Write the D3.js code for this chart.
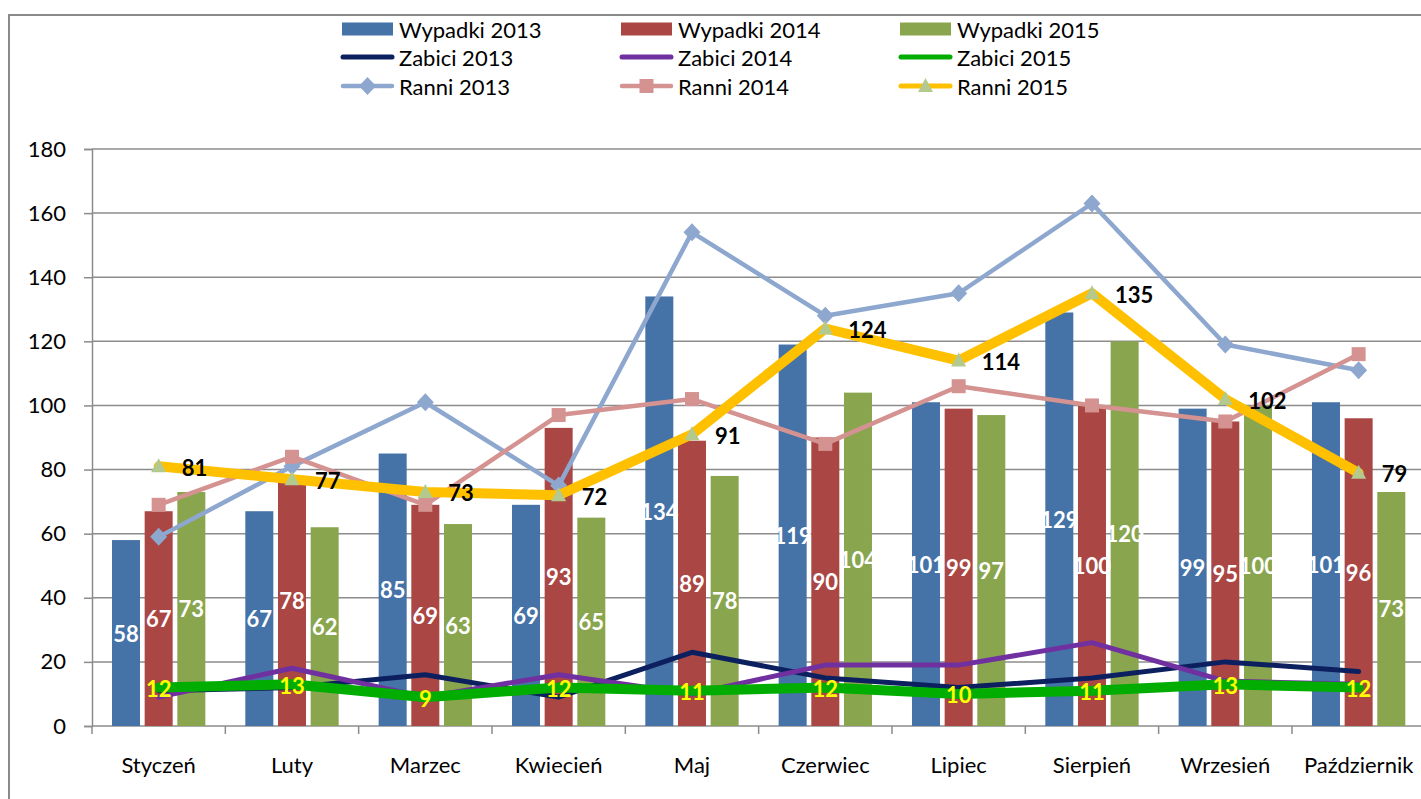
<!DOCTYPE html>
<html>
<head>
<meta charset="utf-8">
<script src="https://cdn.jsdelivr.net/npm/d3@7"></script>
<style>
  html, body { margin: 0; padding: 0; background: #fff; }
  svg { display: block; font-family: Lato, "Open Sans", sans-serif; }
</style>
</head>
<body>
<svg id="chart" width="1421" height="799"></svg>
<script>
const months = ["Styczeń","Luty","Marzec","Kwiecień","Maj","Czerwiec","Lipiec","Sierpień","Wrzesień","Październik"];
const wypadki2013 = [58,67,85,69,134,119,101,129,99,101];
const wypadki2014 = [67,78,69,93,89,90,99,100,95,96];
const wypadki2015 = [73,62,63,65,78,104,97,120,100,73];
const zabici2013 = [11,12,16,9,23,15,12,15,20,17];
const zabici2014 = [9,18,9,16,10,19,19,26,14,13];
const zabici2015 = [12,13,9,12,11,12,10,11,13,12];
const ranni2013 = [59,81,101,75,154,128,135,163,119,111];
const ranni2014 = [69,84,69,97,102,88,106,100,95,116];
const ranni2015 = [81,77,73,72,91,124,114,135,102,79];
const yTicks = [0,20,40,60,80,100,120,140,160,180];

const barSeries = [
  {name:"Wypadki 2013", key:"2013", values:wypadki2013, color:"#4572A7"},
  {name:"Wypadki 2014", key:"2014", values:wypadki2014, color:"#AA4643"},
  {name:"Wypadki 2015", key:"2015", values:wypadki2015, color:"#89A54E"}
];
const lineSeries = [
  {name:"Zabici 2013", values:zabici2013, color:"#0C2060", width:5, marker:null},
  {name:"Zabici 2014", values:zabici2014, color:"#7030A0", width:5, marker:null},
  {name:"Zabici 2015", values:zabici2015, color:"#00AD00", width:10, marker:null},
  {name:"Ranni 2013", values:ranni2013, color:"#8EA7CF", width:4.5, marker:"diamond", mcolor:"#8EA7CF"},
  {name:"Ranni 2014", values:ranni2014, color:"#D49391", width:4.5, marker:"square", mcolor:"#D49391"},
  {name:"Ranni 2015", values:ranni2015, color:"#FFC000", width:10, marker:"triangle", mcolor:"#B4C98D"}
];

const FS = 22;
const svg = d3.select("#chart");
const plot = {left:92, right:1425.3, top:149, bottom:726};

// outer border
svg.append("rect").attr("x",9).attr("y",15).attr("width",1430).attr("height",800)
  .attr("fill","none").attr("stroke","#8a8a8a").attr("stroke-width",2);

const x = d3.scaleBand().domain(months).range([plot.left, plot.right]).padding(0);
const inner = d3.scaleBand().domain(barSeries.map(s=>s.key)).range([-49,49]);
const barW = 28;
const y = d3.scaleLinear().domain([0,180]).range([plot.bottom, plot.top]);
const cx = m => x(m) + x.bandwidth()/2;

// gridlines
svg.append("g").selectAll("line").data(yTicks.filter(t=>t>0)).join("line")
  .attr("x1",plot.left).attr("x2",1421).attr("y1",d=>y(d)).attr("y2",d=>y(d))
  .attr("stroke","#8c8c8c").attr("stroke-width",1.5);

// y axis
const yAxis = d3.axisLeft(y).tickValues(yTicks).tickSize(8).tickPadding(18).tickFormat(d3.format("d"));
const gy = svg.append("g").attr("transform",`translate(${plot.left},0)`).call(yAxis);
gy.select(".domain").attr("stroke","#8c8c8c").attr("stroke-width",1.5);
gy.selectAll(".tick line").attr("stroke","#8c8c8c").attr("stroke-width",1.5);
gy.selectAll(".tick text").attr("font-size",FS).attr("font-family","Lato").attr("fill","#000");

// x axis
const gx = svg.append("g").attr("transform",`translate(0,${plot.bottom})`);
gx.append("line").attr("x1",plot.left).attr("x2",1421).attr("y1",0).attr("y2",0)
  .attr("stroke","#8c8c8c").attr("stroke-width",1.5);
gx.selectAll("line.tk").data(months).join("line").attr("class","tk")
  .attr("x1",d=>x(d)).attr("x2",d=>x(d)).attr("y1",0).attr("y2",8)
  .attr("stroke","#8c8c8c").attr("stroke-width",1.5);
gx.selectAll("text").data(months).join("text")
  .attr("x",d=>cx(d)).attr("y",47).attr("text-anchor","middle")
  .attr("font-size",FS).attr("fill","#000").text(d=>d);

// bars
barSeries.forEach(s=>{
  svg.append("g").selectAll("rect").data(months).join("rect")
    .attr("x",(m)=>cx(m)+inner(s.key)+(inner.bandwidth()-barW)/2)
    .attr("width",barW)
    .attr("y",(m,i)=>y(s.values[i]))
    .attr("height",(m,i)=>plot.bottom-y(s.values[i]))
    .attr("fill",s.color);
});

function markerPath(type){
  if(type==="diamond") return "M0,-9L8.5,0L0,9L-8.5,0Z";
  if(type==="square") return "M-7,-7H7V7H-7Z";
  if(type==="triangle") return "M0,-8L7.5,6L-7.5,6Z";
  return "";
}

// lines
lineSeries.forEach(s=>{
  const line = d3.line().x((d,i)=>cx(months[i])).y(d=>y(d));
  svg.append("path").datum(s.values).attr("d",line)
    .attr("fill","none").attr("stroke",s.color).attr("stroke-width",s.width)
    .attr("stroke-linejoin","round").attr("stroke-linecap","round");
  if(s.marker){
    svg.append("g").selectAll("path").data(s.values).join("path")
      .attr("transform",(d,i)=>`translate(${cx(months[i])},${y(d)})`)
      .attr("d",markerPath(s.marker)).attr("fill",s.mcolor);
  }
});

// bar labels
barSeries.forEach(s=>{
  svg.append("g").selectAll("text").data(months).join("text")
    .attr("x",m=>cx(m)+inner(s.key)+inner.bandwidth()/2)
    .attr("y",(m,i)=>(y(s.values[i])+plot.bottom)/2)
    .attr("text-anchor","middle").attr("dominant-baseline","central")
    .attr("font-size",FS).attr("font-weight","bold").attr("fill","#fff")
    .text((m,i)=>s.values[i]);
});

// Zabici 2015 labels
svg.append("g").selectAll("text").data(zabici2015).join("text")
  .attr("x",(d,i)=>cx(months[i])).attr("y",d=>y(d)+1)
  .attr("text-anchor","middle").attr("dominant-baseline","central")
  .attr("font-size",FS).attr("font-weight","bold").attr("fill","#FFFF00")
  .text(d=>d);

// Ranni 2015 labels
svg.append("g").selectAll("text").data(ranni2015).join("text")
  .attr("x",(d,i)=>cx(months[i])+23).attr("y",d=>y(d)+1)
  .attr("text-anchor","start").attr("dominant-baseline","central")
  .attr("font-size",FS).attr("font-weight","bold").attr("fill","#000")
  .text(d=>d);

// legend
const legendItems = [
  barSeries[0], barSeries[1], barSeries[2],
  lineSeries[0], lineSeries[1], lineSeries[2],
  lineSeries[3], lineSeries[4], lineSeries[5]
];
const colX = [342, 621, 900];
const rowY = [29, 57, 86];
const lg = svg.append("g");
legendItems.forEach((it,k)=>{
  const gx0 = colX[k%3], gy0 = rowY[Math.floor(k/3)];
  const g = lg.append("g").attr("transform",`translate(${gx0},${gy0})`);
  if(k<3){
    g.append("rect").attr("x",0).attr("y",-6.5).attr("width",51).attr("height",13).attr("fill",it.color);
  } else {
    g.append("line").attr("x1",1).attr("x2",50).attr("y1",0).attr("y2",0)
      .attr("stroke",it.color).attr("stroke-width",Math.min(it.width,5)).attr("stroke-linecap","round");
    if(it.marker){
      g.append("path").attr("transform","translate(25.5,0)").attr("d",markerPath(it.marker)).attr("fill",it.mcolor);
    }
  }
  g.append("text").attr("x",57).attr("y",0).attr("dominant-baseline","central")
    .attr("font-size",FS).attr("fill","#000").text(it.name);
});
</script>
</body>
</html>
